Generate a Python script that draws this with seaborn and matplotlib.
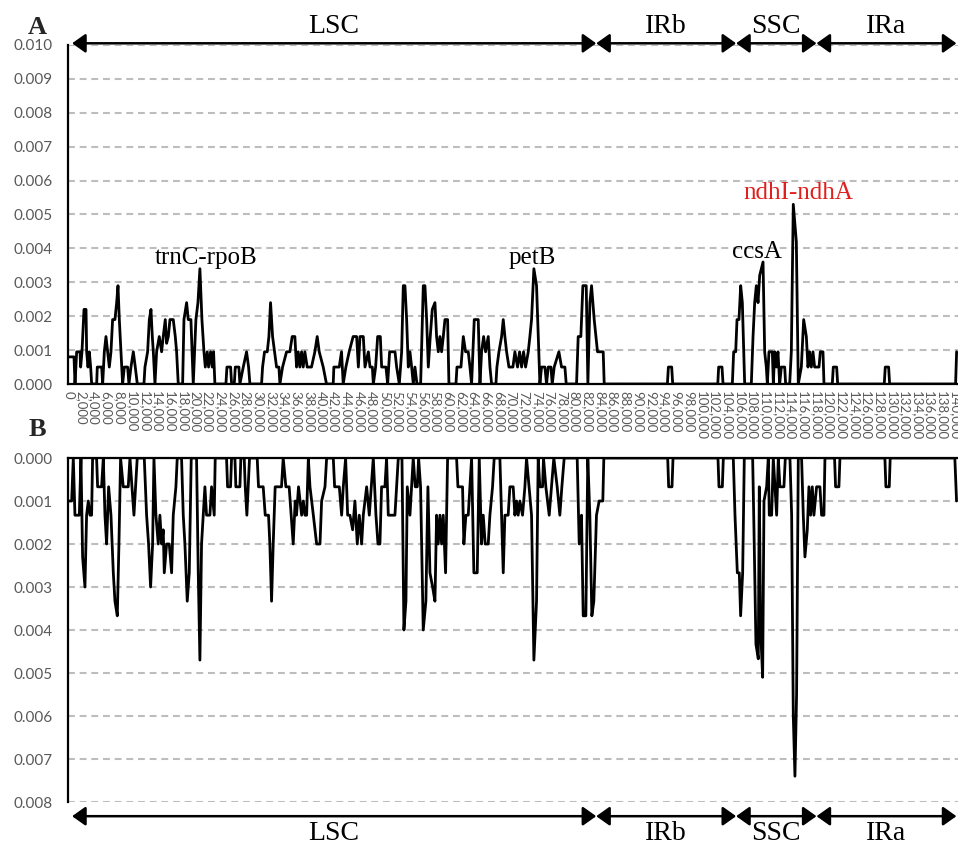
import numpy as np
import pandas as pd
import matplotlib
matplotlib.use("Agg")
import matplotlib.pyplot as plt
import seaborn as sns

# ---------------- data (position in kb, Pi in units of 0.001) ----------------
profile_a = [
    (0, 0.8), (0.9, 0.8), (1.06, 0), (1.32, 0.95), (1.85, 0.95), (1.95, 0.5), (2.16, 0.95),
    (2.48, 2.2), (2.8, 2.2), (2.9, 0.95), (3.11, 0.5), (3.32, 0.95), (3.53, 0.5), (3.69, 0),
    (4.48, 0), (4.58, 0.5), (5.27, 0.5), (5.43, 0), (5.69, 0.95), (5.95, 1.4), (6.22, 0.95),
    (6.48, 0.5), (6.74, 0.95), (7.0, 1.9), (7.37, 1.9), (7.64, 2.4), (7.85, 2.9), (8.06, 1.9),
    (8.32, 0.95), (8.58, 0), (8.85, 0.5), (9.37, 0.5), (9.58, 0), (9.9, 0.5), (10.27, 0.95),
    (10.58, 0.5), (10.9, 0), (11.95, 0), (12.11, 0.5), (12.53, 0.95), (12.8, 1.9), (13.06, 2.2),
    (13.27, 1.4), (13.43, 0.95), (13.69, 0), (13.95, 0.95), (14.37, 1.4), (14.74, 0.95),
    (15.0, 1.4), (15.32, 1.9), (15.53, 1.2), (15.8, 1.4), (16.06, 1.9), (16.58, 1.9),
    (16.9, 1.4), (17.11, 0.95), (17.37, 0), (18.06, 0), (18.27, 1.9), (18.69, 2.4),
    (18.95, 1.9), (19.37, 1.9), (19.74, 0), (20.16, 1.9), (20.48, 2.4), (20.79, 3.4),
    (21.11, 1.9), (21.43, 0.95), (21.64, 0.5), (21.95, 0.95), (22.16, 0.5), (22.48, 0.95),
    (22.74, 0.5), (22.95, 0.95), (23.16, 0), (24.9, 0), (25.06, 0.5), (25.64, 0.5), (25.8, 0),
    (26.22, 0), (26.38, 0.5), (26.95, 0.5), (27.11, 0), (27.64, 0.5), (28.16, 0.95),
    (28.48, 0.5), (28.69, 0), (30.53, 0), (30.69, 0.5), (31.0, 0.95), (31.43, 0.95),
    (31.69, 1.4), (31.95, 2.4), (32.27, 1.4), (32.58, 0.95), (32.9, 0.5), (33.27, 0.5),
    (33.43, 0), (33.85, 0.5), (34.48, 0.95), (35.0, 0.95), (35.37, 1.4), (35.79, 1.4),
    (36.06, 0.5), (36.32, 0.95), (36.58, 0.5), (36.85, 0.95), (37.11, 0.5), (37.37, 0.95),
    (37.74, 0.5), (38.42, 0.5), (38.95, 0.95), (39.32, 1.4), (39.64, 0.95), (40.27, 0.5),
    (40.79, 0), (41.85, 0), (41.95, 0.5), (42.8, 0.5), (43.16, 0.95), (43.43, 0), (43.85, 0.5),
    (44.37, 0.95), (45.0, 1.4), (45.29, 1.4), (45.55, 1.4), (45.82, 0.5), (46.08, 1.4),
    (46.6, 1.4), (46.87, 0.5), (47.4, 0.95), (47.66, 0.5), (48.03, 0.5), (48.19, 0),
    (48.55, 0.5), (48.87, 1.4), (49.29, 1.4), (49.5, 0.5), (50.18, 0.5), (50.45, 0),
    (50.76, 0.95), (51.61, 0.95), (51.87, 0.5), (52.29, 0), (52.66, 0.95), (52.92, 2.9),
    (53.18, 2.9), (53.45, 1.9), (53.71, 0.5), (53.97, 0.95), (54.24, 0.5), (54.5, 0),
    (54.76, 0.5), (55.08, 0), (55.66, 0), (56.08, 2.9), (56.34, 2.9), (56.61, 1.9),
    (56.87, 0.5), (57.18, 1.4), (57.5, 2.2), (57.92, 2.4), (58.18, 1.4), (58.45, 0.95),
    (58.71, 1.4), (58.97, 0.95), (59.24, 1.4), (59.5, 1.9), (59.92, 1.9), (60.13, 0),
    (61.24, 0), (61.4, 0.5), (62.03, 0.5), (62.4, 1.4), (62.76, 0.95), (63.18, 0.95),
    (63.45, 0.5), (63.71, 0), (64.13, 1.9), (64.76, 1.9), (65.03, 0), (65.29, 0.95),
    (65.61, 1.4), (65.92, 0.95), (66.34, 1.4), (66.61, 0.5), (66.87, 0), (67.55, 0),
    (67.71, 0.5), (68.03, 0.95), (68.45, 1.4), (68.71, 1.9), (68.97, 1.4), (69.24, 0.95),
    (69.61, 0.5), (70.24, 0.5), (70.55, 0.95), (70.97, 0.5), (71.29, 0.95), (71.61, 0.5),
    (71.92, 0.95), (72.24, 0.5), (72.66, 0.95), (72.92, 1.4), (73.18, 1.9), (73.55, 3.4),
    (73.97, 2.9), (74.24, 1.4), (74.5, 0), (74.76, 0.5), (75.29, 0.5), (75.55, 0),
    (75.82, 0.5), (76.24, 0.5), (76.45, 0), (76.76, 0.5), (77.5, 0.95), (77.92, 0.5),
    (78.45, 0.5), (78.66, 0), (80.29, 0), (80.55, 1.4), (80.97, 1.4), (81.29, 2.9),
    (81.82, 2.9), (82.08, 0), (82.4, 2.4), (82.66, 2.9), (83.08, 1.9), (83.6, 0.95),
    (84.5, 0.95), (84.66, 0), (94.64, 0), (94.8, 0.5), (95.32, 0.5), (95.48, 0),
    (102.6, 0), (102.74, 0.5), (103.27, 0.5), (103.43, 0), (104.9, 0), (105.11, 0.95),
    (105.43, 0.95), (105.64, 1.9), (105.95, 1.9), (106.22, 2.9), (106.48, 2.4), (106.85, 0),
    (107.9, 0), (108.17, 1.4), (108.43, 2.4), (108.69, 2.9), (108.96, 2.4), (109.22, 3.2),
    (109.48, 3.4), (109.75, 3.6), (110.01, 0.95), (110.27, 0.5), (110.43, 0), (110.69, 0.95),
    (111.22, 0.95), (111.38, 0), (111.59, 0.95), (111.85, 0.5), (112.11, 0.95), (112.38, 0),
    (112.64, 0.5), (113.17, 0.5), (113.32, 0), (113.96, 0), (114.22, 0.95), (114.53, 5.3),
    (115.01, 4.2), (115.32, 0), (115.8, 0.5), (116.17, 1.9), (116.59, 1.4), (116.85, 0.5),
    (117.11, 0.95), (117.38, 0.5), (117.64, 0.95), (117.9, 0.5), (118.59, 0.5), (118.8, 0.95),
    (119.22, 0.95), (119.38, 0), (120.69, 0), (120.85, 0.5), (121.38, 0.5), (121.54, 0),
    (128.9, 0), (129.06, 0.5), (129.59, 0.5), (129.75, 0), (140.17, 0), (140.33, 0.95),
]

profile_b = [
    (0, 1.0), (0.53, 1.0), (0.79, 0), (1.05, 1.33), (1.74, 1.33), (2.0, 0), (2.26, 2.3),
    (2.63, 3.0), (2.89, 1.33), (3.16, 1.0), (3.42, 1.33), (3.68, 1.33), (3.84, 0), (4.47, 0),
    (4.63, 0.67), (5.26, 0.67), (5.53, 0), (5.79, 1.33), (6.05, 2.0), (6.37, 0.67),
    (6.74, 1.33), (7.11, 2.67), (7.37, 3.33), (7.74, 3.67), (8.0, 2.0), (8.26, 0),
    (8.68, 0.67), (9.47, 0.67), (9.74, 0), (10.05, 0.67), (10.37, 1.33), (10.63, 0.67),
    (10.89, 0), (12.0, 0), (12.37, 1.33), (12.68, 2.0), (13.0, 3.0), (13.32, 2.0), (13.53, 0),
    (13.84, 1.33), (14.21, 2.0), (14.47, 1.33), (14.74, 2.0), (15.0, 1.67), (15.16, 2.67),
    (15.53, 2.0), (15.95, 2.0), (16.32, 2.67), (16.58, 1.33), (17.0, 0.67), (17.21, 0),
    (17.89, 0), (18.16, 1.33), (18.42, 2.0), (18.79, 3.33), (19.11, 2.67), (19.42, 0),
    (20.26, 0), (20.53, 2.67), (20.79, 4.7), (21.05, 2.0), (21.32, 1.33), (21.58, 0.67),
    (21.84, 1.33), (22.37, 1.33), (22.63, 0.67), (23.05, 1.33), (23.21, 0), (25.0, 0),
    (25.16, 0.67), (25.63, 0.67), (25.79, 0), (26.32, 0), (26.47, 0.67), (27.11, 0.67),
    (27.26, 0), (27.79, 0), (27.95, 0.67), (28.21, 1.33), (28.42, 0.67), (28.63, 0),
    (29.84, 0), (30.05, 0.67), (30.79, 0.67), (31.11, 1.33), (31.63, 1.33), (31.84, 2.0),
    (32.11, 3.33), (32.37, 2.0), (32.68, 0.67), (33.68, 0.67), (33.95, 0), (34.37, 0.67),
    (34.89, 0.67), (35.21, 1.33), (35.53, 2.0), (35.84, 1.0), (36.05, 1.33), (36.37, 0.67),
    (36.86, 1.33), (37.13, 1.0), (37.39, 1.33), (37.65, 1.33), (37.92, 0), (38.18, 0.67),
    (38.71, 1.33), (39.23, 2.0), (39.76, 2.0), (40.02, 1.0), (40.55, 0.67), (40.81, 0),
    (41.86, 0), (42.07, 0.67), (42.49, 0.67), (42.81, 0.67), (43.18, 1.33), (43.44, 0.67),
    (43.81, 0), (44.13, 1.33), (44.49, 1.33), (44.92, 1.67), (45.28, 1.0), (45.65, 2.0),
    (45.97, 1.33), (46.34, 2.0), (46.6, 1.33), (47.13, 0.67), (47.55, 1.33), (47.86, 0.67),
    (48.18, 0), (48.6, 1.33), (48.92, 2.0), (49.23, 2.0), (49.49, 0.67), (50.02, 0.67),
    (50.28, 0), (50.55, 1.33), (51.6, 1.33), (51.86, 0.67), (52.13, 0), (52.71, 0),
    (53.02, 4.0), (53.34, 3.33), (53.55, 0.67), (53.97, 1.33), (54.23, 0.67), (54.49, 0),
    (54.81, 0.67), (55.13, 0.67), (55.34, 0), (55.65, 0.67), (56.07, 4.0), (56.49, 3.33),
    (56.81, 0.67), (57.13, 2.67), (57.55, 3.0), (57.92, 3.33), (58.18, 1.33), (58.44, 2.0),
    (58.71, 1.33), (58.97, 2.0), (59.23, 1.33), (59.6, 2.67), (59.92, 0), (61.34, 0),
    (61.55, 0.67), (62.28, 0.67), (62.49, 2.0), (62.81, 1.33), (63.18, 1.33), (63.44, 0.67),
    (63.71, 0), (64.07, 2.67), (64.6, 2.67), (64.92, 0), (65.28, 2.0), (65.55, 1.33),
    (65.86, 2.0), (66.34, 2.0), (66.6, 1.33), (67.02, 0.67), (67.28, 0), (68.18, 0),
    (68.44, 1.33), (68.71, 2.67), (68.97, 1.33), (69.49, 1.33), (69.76, 0.67), (70.28, 0.67),
    (70.55, 1.33), (70.81, 1.0), (71.07, 1.33), (71.34, 1.0), (71.76, 1.33), (72.13, 0.67),
    (72.39, 0), (73.18, 1.33), (73.55, 4.7), (73.97, 3.33), (74.23, 0), (74.49, 0.67),
    (74.92, 0.67), (75.07, 0), (75.44, 0.67), (75.97, 1.33), (76.34, 0.67), (76.7, 0),
    (77.23, 0.67), (77.65, 1.33), (77.97, 0.67), (78.34, 0), (80.39, 0), (80.71, 2.0),
    (81.07, 1.33), (81.34, 3.67), (81.76, 3.67), (82.07, 0), (82.39, 1.33), (82.71, 3.67),
    (83.02, 3.33), (83.44, 1.33), (83.86, 1.0), (84.44, 1.0), (84.6, 0), (94.69, 0),
    (94.84, 0.67), (95.37, 0.67), (95.53, 0), (102.63, 0), (102.79, 0.67), (103.32, 0.67),
    (103.48, 0), (105.05, 0), (105.32, 1.33), (105.69, 2.67), (106.0, 2.67), (106.21, 3.67),
    (106.53, 2.67), (106.79, 0), (108.11, 0), (108.32, 1.67), (108.63, 4.33), (109.0, 4.67),
    (109.16, 0.67), (109.37, 4.0), (109.69, 5.1), (109.9, 1.0), (110.32, 0.67), (110.58, 0),
    (110.74, 1.33), (111.11, 1.33), (111.37, 0), (111.63, 0.67), (111.9, 1.33), (112.16, 0),
    (112.42, 0.67), (113.05, 0.67), (113.27, 0), (114.0, 0), (114.27, 1.33), (114.53, 6.0),
    (114.79, 7.4), (115.05, 5.5), (115.32, 0), (115.84, 0), (116.11, 1.33), (116.37, 2.3),
    (116.74, 1.67), (117.0, 0.67), (117.27, 1.33), (117.53, 0.67), (117.79, 1.33),
    (118.21, 0.67), (118.74, 0.67), (119.0, 1.33), (119.37, 1.33), (119.53, 0), (121.05, 0),
    (121.21, 0.67), (121.74, 0.67), (121.9, 0), (129.0, 0), (129.16, 0.67), (129.69, 0.67),
    (129.84, 0), (140.05, 0), (140.32, 1.0),
]

regions = ["LSC", "IRb", "SSC", "IRa"]
region_bounds_kb = [0.6, 83.4, 105.5, 118.2, 140.3]

peak_labels = ["trnC-rpoB", "petB", "ccsA", "ndhI-ndhA"]
peak_label_x_kb = [21.8, 73.3, 108.8, 115.4]
peak_label_y = [0.00372, 0.00372, 0.0039, 0.00563]
peak_label_colors = ["black", "black", "black", "#e0201f"]

xticks_kb = list(range(0, 141, 2))
yticks_a = [i / 1000 for i in range(0, 11)]
yticks_b = [i / 1000 for i in range(0, 9)]

# ---------------- build frames ----------------
pos_a, pi_a = zip(*profile_a)
pos_b, pi_b = zip(*profile_b)
df_a = pd.DataFrame({"pos": np.array(pos_a) * 1000, "pi": np.array(pi_a) / 1000})
df_b = pd.DataFrame({"pos": np.array(pos_b) * 1000, "pi": np.array(pi_b) / 1000})

sns.set_theme(style="white")
plt.rcParams["font.family"] = ["Liberation Serif", "DejaVu Serif"]

W, H = 958, 846
fig = plt.figure(figsize=(W / 100, H / 100), dpi=100)
left = 68.3 / W
ax1 = fig.add_axes([left, 1 - 384 / H, 1 - left, (384 - 45) / H])
ax2 = fig.add_axes([left, 1 - 802 / H, 1 - left, (802 - 458) / H])

grid_kw = dict(color="#bdbdbd", lw=1.5, ls=(0, (3.3, 2.3)))
tick_color = "#595959"
tick_font = ["Lato", "DejaVu Sans"]

for ax, df, yt in ((ax1, df_a, yticks_a), (ax2, df_b, yticks_b)):
    sns.lineplot(data=df, x="pos", y="pi", ax=ax, color="black", lw=2.0,
                 estimator=None, sort=False, zorder=3)
    ax.set_xlim(0, 140550)
    ax.set_yticks(yt)
    ax.set_yticklabels([f"{v:.3f}" for v in yt], color=tick_color,
                       fontsize=11, family=tick_font)
    ax.set_xticks([k * 1000 for k in xticks_kb])
    ax.yaxis.grid(True, **grid_kw)
    ax.xaxis.grid(False)
    ax.set_axisbelow(True)
    ax.tick_params(axis="both", length=0)
    ax.tick_params(axis="y", pad=11)
    ax.set_xlabel("")
    ax.set_ylabel("")
    ax.set_facecolor("white")
    for s in ax.spines.values():
        s.set_color("black")
        s.set_linewidth(1.6)
    ax.spines["right"].set_visible(False)

# top panel
ax1.set_ylim(0, 0.010)
ax1.spines["top"].set_visible(False)
ax1.set_xticklabels([f"{k * 1000:,}" for k in xticks_kb], rotation=270,
                    color=tick_color, fontsize=9.5, family=tick_font)
ax1.tick_params(axis="x", pad=5)

# bottom panel (inverted)
ax2.set_ylim(0.008, 0)
ax2.spines["bottom"].set_visible(False)
ax2.set_xticklabels([])

# region arrows and labels
arrow_kw = dict(arrowstyle="<|-|>,head_length=0.45,head_width=0.32", color="black",
                lw=1.8, mutation_scale=18, shrinkA=0, shrinkB=0)
for ax, ya, yl in ((ax1, 0.01005, 0.01055), (ax2, 0.00833, 0.00874)):
    for i, name in enumerate(regions):
        x0 = region_bounds_kb[i] * 1000
        x1 = region_bounds_kb[i + 1] * 1000
        ax.annotate("", xy=(x1, ya), xytext=(x0, ya), arrowprops=arrow_kw,
                    annotation_clip=False, zorder=5)
        ax.text((x0 + x1) / 2, yl, name, ha="center", va="center", fontsize=20,
                color="black", clip_on=False)

# peak labels
for lab, xk, yv, c in zip(peak_labels, peak_label_x_kb, peak_label_y, peak_label_colors):
    ax1.text(xk * 1000, yv, lab, ha="center", va="center", fontsize=18, color=c, zorder=6)

fig.text(37 / W, 1 - 27 / H, "A", fontsize=19, fontweight="bold", ha="center", va="center")
fig.text(37 / W, 1 - 430 / H, "B", fontsize=19, fontweight="bold", ha="center", va="center")

fig.savefig("out.png", dpi=100, facecolor="white")
